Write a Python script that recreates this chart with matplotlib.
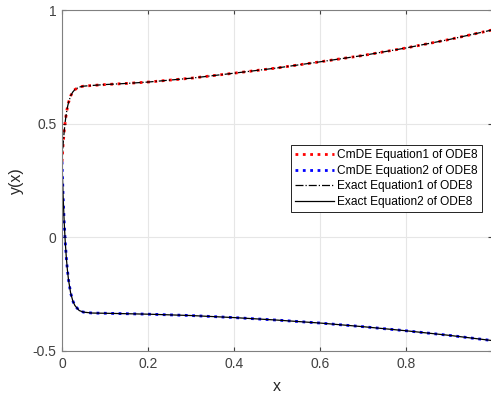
import matplotlib.pyplot as plt
import numpy as np

# values
x = [0, 0.0025, 0.005, 0.0075, 0.01, 0.0125, 0.015, 0.02, 0.025, 0.03, 0.04, 0.05,
     0.07, 0.1, 0.15, 0.2, 0.3, 0.4, 0.5, 0.6, 0.7, 0.8, 0.9, 1.0]
y1 = [0.333, 0.407, 0.464, 0.509, 0.544, 0.571, 0.592, 0.622, 0.639, 0.650, 0.661, 0.665,
      0.668, 0.672, 0.677, 0.683, 0.700, 0.722, 0.745, 0.772, 0.800, 0.833, 0.870, 0.912]
y2 = [0.333, 0.186, 0.071, -0.019, -0.088, -0.142, -0.185, -0.244, -0.279, -0.300, -0.322, -0.329,
      -0.333, -0.334, -0.336, -0.338, -0.344, -0.353, -0.364, -0.377, -0.393, -0.411, -0.431, -0.454]
labels = ['CmDE Equation1 of ODE8', 'CmDE Equation2 of ODE8',
          'Exact Equation1 of ODE8', 'Exact Equation2 of ODE8']
xticks = [0, 0.2, 0.4, 0.6, 0.8]
yticks = [-0.5, 0, 0.5, 1]

plt.rcParams['font.family'] = ['Liberation Sans', 'DejaVu Sans']

fig = plt.figure(figsize=(4.91, 3.94), dpi=100)
ax = fig.add_axes([62/491, 1-351/394, 430/491, 341/394])

ax.plot(x, y1, ':', color='red', lw=2, label=labels[0])
ax.plot(x, y2, ':', color='blue', lw=2, label=labels[1])
ax.plot(x, y1, '-.', color='black', lw=0.9, label=labels[2])
ax.plot(x, y2, '-', color='black', lw=0.9, label=labels[3])

ax.set_xlim(0, 1)
ax.set_ylim(-0.5, 1)
ax.set_xticks(xticks)
ax.set_xticklabels(['0', '0.2', '0.4', '0.6', '0.8'])
ax.set_yticks(yticks)
ax.set_yticklabels(['-0.5', '0', '0.5', '1'])
ax.grid(True, color='#e6e6e6', lw=0.8)
ax.set_axisbelow(True)
ax.tick_params(direction='in', length=3, top=True, right=True, labelsize=10,
               colors='#404040', width=0.8, pad=4)
for s in ax.spines.values():
    s.set_color('#808080')
    s.set_linewidth(0.8)

ax.set_xlabel('x', fontsize=11.5, color='#262626', labelpad=6)
ax.set_ylabel('y(x)', fontsize=11.5, color='#262626', labelpad=6)

leg = ax.legend(loc='upper left', bbox_to_anchor=(0.533, 0.604), borderaxespad=0,
                fontsize=8.6, fancybox=False, framealpha=1, edgecolor='black',
                handlelength=3.2, handletextpad=0.3, labelspacing=0.3, borderpad=0.35)
leg.get_frame().set_linewidth(0.6)

fig.savefig('out.png', dpi=100)
